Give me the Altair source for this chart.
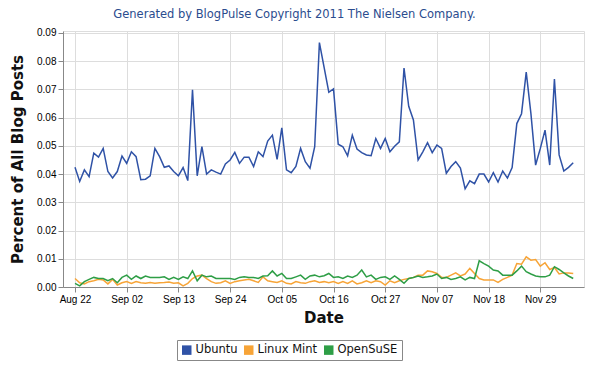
import altair as alt
import pandas as pd

# ---- data ----
start_date = "2011-08-22"
n_days = 107
series_names = ["Ubuntu", "Linux Mint", "OpenSuSE"]
line_colors = ["#2f52a6", "#f7a437", "#2e9e46"]

ubuntu = [0.0424, 0.0374, 0.0415, 0.0391, 0.0474, 0.0460, 0.0491, 0.0409, 0.0386, 0.0409,
          0.0464, 0.0438, 0.0479, 0.0462, 0.0380, 0.0382, 0.0394, 0.0491, 0.0462, 0.0424,
          0.0429, 0.0409, 0.0394, 0.0423, 0.0377, 0.0699, 0.0394, 0.0497, 0.0400, 0.0415,
          0.0407, 0.0400, 0.0436, 0.0450, 0.0477, 0.0438, 0.0460, 0.0460, 0.0427, 0.0479,
          0.0462, 0.0517, 0.0538, 0.0452, 0.0564, 0.0415, 0.0405, 0.0427, 0.0491, 0.0444,
          0.0421, 0.0497, 0.0866, 0.0778, 0.0690, 0.0702, 0.0506, 0.0497, 0.0465, 0.0538,
          0.0489, 0.0476, 0.0468, 0.0465, 0.0526, 0.0491, 0.0526, 0.0479, 0.0499, 0.0514,
          0.0776, 0.0640, 0.0592, 0.0450, 0.0479, 0.0511, 0.0476, 0.0503, 0.0491, 0.0403,
          0.0427, 0.0444, 0.0421, 0.0348, 0.0376, 0.0366, 0.0400, 0.0400, 0.0372, 0.0405,
          0.0372, 0.0411, 0.0386, 0.0423, 0.0579, 0.0614, 0.0761, 0.0614, 0.0432, 0.0491,
          0.0556, 0.0432, 0.0737, 0.0468, 0.0411, 0.0424, 0.0440]

linux_mint = [0.0030, 0.0015, 0.0011, 0.0019, 0.0022, 0.0027, 0.0025, 0.0011, 0.0027, 0.0007,
              0.0015, 0.0019, 0.0013, 0.0019, 0.0015, 0.0013, 0.0016, 0.0013, 0.0015, 0.0016,
              0.0018, 0.0013, 0.0015, 0.0004, 0.0013, 0.0030, 0.0039, 0.0042, 0.0030, 0.0019,
              0.0013, 0.0015, 0.0022, 0.0013, 0.0019, 0.0022, 0.0025, 0.0027, 0.0022, 0.0016,
              0.0036, 0.0022, 0.0019, 0.0016, 0.0022, 0.0013, 0.0011, 0.0019, 0.0015, 0.0013,
              0.0019, 0.0022, 0.0016, 0.0019, 0.0015, 0.0019, 0.0013, 0.0019, 0.0013, 0.0022,
              0.0011, 0.0015, 0.0022, 0.0015, 0.0022, 0.0019, 0.0007, 0.0022, 0.0015, 0.0022,
              0.0027, 0.0030, 0.0034, 0.0042, 0.0042, 0.0057, 0.0054, 0.0048, 0.0034, 0.0034,
              0.0042, 0.0050, 0.0039, 0.0046, 0.0066, 0.0048, 0.0030, 0.0025, 0.0025, 0.0025,
              0.0016, 0.0027, 0.0034, 0.0042, 0.0083, 0.0081, 0.0107, 0.0095, 0.0097, 0.0074,
              0.0086, 0.0062, 0.0069, 0.0046, 0.0050, 0.0050, 0.0048]

opensuse = [0.0013, 0.0004, 0.0019, 0.0027, 0.0034, 0.0030, 0.0030, 0.0022, 0.0030, 0.0015,
            0.0034, 0.0042, 0.0027, 0.0039, 0.0030, 0.0039, 0.0034, 0.0034, 0.0034, 0.0036,
            0.0027, 0.0034, 0.0027, 0.0036, 0.0030, 0.0057, 0.0022, 0.0042, 0.0036, 0.0039,
            0.0030, 0.0030, 0.0030, 0.0030, 0.0027, 0.0034, 0.0036, 0.0034, 0.0034, 0.0030,
            0.0039, 0.0040, 0.0057, 0.0039, 0.0048, 0.0030, 0.0030, 0.0036, 0.0042, 0.0027,
            0.0039, 0.0042, 0.0036, 0.0040, 0.0048, 0.0034, 0.0036, 0.0030, 0.0039, 0.0034,
            0.0042, 0.0060, 0.0036, 0.0042, 0.0027, 0.0034, 0.0036, 0.0027, 0.0039, 0.0027,
            0.0013, 0.0030, 0.0034, 0.0039, 0.0034, 0.0036, 0.0039, 0.0046, 0.0030, 0.0034,
            0.0027, 0.0030, 0.0036, 0.0025, 0.0034, 0.0030, 0.0093, 0.0083, 0.0074, 0.0060,
            0.0057, 0.0042, 0.0042, 0.0042, 0.0057, 0.0074, 0.0054, 0.0046, 0.0039, 0.0036,
            0.0036, 0.0042, 0.0072, 0.0062, 0.0050, 0.0039, 0.0030]

x_tick_dates = ["2011-08-22", "2011-09-02", "2011-09-13", "2011-09-24", "2011-10-05",
                "2011-10-16", "2011-10-27", "2011-11-07", "2011-11-18", "2011-11-29"]
y_ticks = [0.00, 0.01, 0.02, 0.03, 0.04, 0.05, 0.06, 0.07, 0.08, 0.09]

# ---- table ----
dates = pd.date_range(start_date, periods=n_days, freq="D").strftime("%Y-%m-%d").tolist()
rows = []
for name, vals in zip(series_names, [ubuntu, linux_mint, opensuse]):
    for d, v in zip(dates, vals):
        rows.append({"date": d, "value": v, "series": name})
df = pd.DataFrame(rows)


def dt(s, h=0, m=0):
    y, mo, d = [int(p) for p in s.split("-")]
    return alt.DateTime(year=y, month=mo, date=d, hours=h, minutes=m, utc=True)


x_scale = alt.Scale(type="utc", domain=[dt("2011-08-19", 10, 48), dt("2011-12-08", 7, 0)])
color_scale = alt.Scale(domain=series_names, range=line_colors)

FONT = "DejaVu Sans"

x_enc = alt.X(
    "date:T",
    scale=x_scale,
    axis=alt.Axis(
        values=[dt(s) for s in x_tick_dates],
        format="%b %d",
        labelAngle=0,
        title="Date",
        titleFontSize=15,
        titleFontWeight="bold",
        titleFont=FONT,
        titleColor="#111",
        titlePadding=6,
    ),
)
y_enc = alt.Y(
    "value:Q",
    scale=alt.Scale(domain=[0, 0.0907], nice=False, zero=True),
    axis=alt.Axis(
        values=y_ticks,
        format=".2f",
        title="Percent of All Blog Posts",
        titleFontSize=15,
        titleFontWeight="bold",
        titleFont=FONT,
        titleColor="#111",
        titlePadding=11,
    ),
)

# legend carrier: draws nothing itself, gives filled square legend symbols
legend_layer = alt.Chart(df).transform_filter("false").mark_square(filled=True, opacity=1).encode(
    color=alt.Color(
        "series:N",
        scale=color_scale,
        sort=series_names,
        legend=alt.Legend(
            title=None,
            orient="none",
            direction="horizontal",
            legendX=114,
            legendY=309,
            symbolType="square",
            symbolSize=90,
            symbolStrokeWidth=0,
            symbolOpacity=1,
            labelFont=FONT,
            labelFontSize=11.5,
            labelColor="#111",
            strokeColor="#888",
            padding=4,
            columnPadding=5,
            labelOffset=3,
        ),
    )
)

lines = alt.Chart(df).mark_line(strokeWidth=1.5, clip=True).encode(
    x=x_enc,
    y=y_enc,
    color=alt.Color("series:N", scale=color_scale, legend=None),
    detail="series:N",
)

chart = (
    alt.layer(legend_layer, lines)
    .properties(
        width=521,
        height=256,
        autosize=alt.AutoSizeParams(type="none"),
        padding={"left": 55, "top": 23, "right": 10, "bottom": 80},
        title=alt.TitleParams(
            "Generated by BlogPulse Copyright 2011 The Nielsen Company.",
            font=FONT,
            fontSize=11.5,
            fontWeight="normal",
            color="#2b4c8e",
            anchor="middle",
            dx=-29,
            offset=7,
        ),
    )
    .configure_view(stroke="#999", strokeWidth=1)
    .configure_axis(
        labelFont=FONT,
        labelFontSize=11,
        labelColor="#222",
        tickSize=4,
        tickColor="#777",
        domainColor="#777",
        gridColor="#d6d6d6",
        gridDash=[2, 2],
        gridWidth=1,
    )
    .configure(background="white")
)

chart.save("out.html", embed_options={"renderer": "svg", "actions": False})
